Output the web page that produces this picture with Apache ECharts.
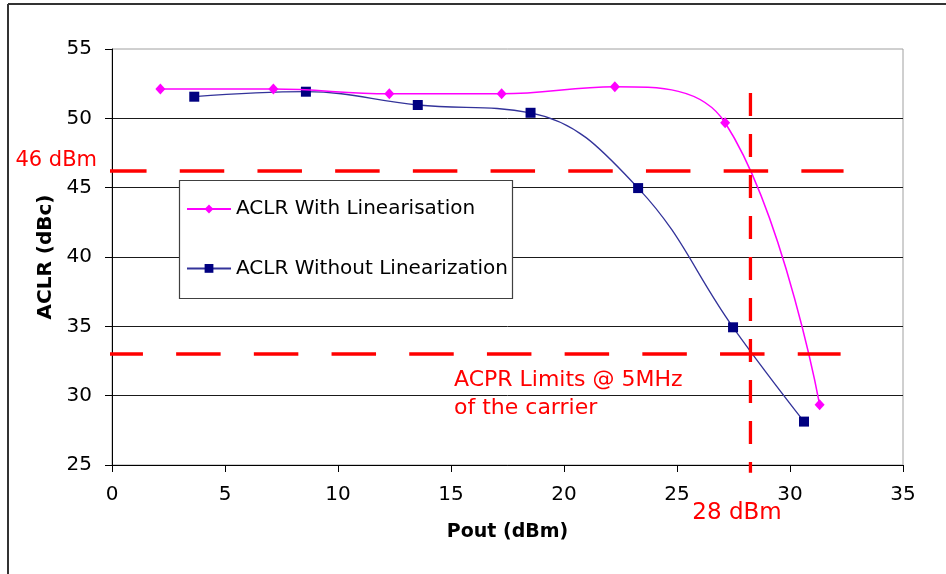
<!DOCTYPE html>
<html><head><meta charset="utf-8">
<script src="https://cdn.jsdelivr.net/npm/echarts@6/dist/echarts.min.js"></script>
<style>html,body{margin:0;padding:0;background:#fff}#c{width:946px;height:574px}</style>
</head><body><div id="c"></div>
<script>
// ---- data ----
const seriesNames = ['ACLR With Linearisation', 'ACLR Without Linearization'];
const withLinX = [2.14, 7.14, 12.27, 17.24, 22.25, 27.13, 31.31];
const withLinY = [52.11, 52.11, 51.77, 51.77, 52.28, 49.68, 29.35];
const withoutLinX = [3.64, 8.58, 13.53, 18.52, 23.28, 27.48, 30.62];
const withoutLinY = [51.56, 51.92, 50.96, 50.40, 44.97, 34.93, 28.13];
const limit46 = [[-0.44, 46.2], [32.37, 46.2]];
const limit33 = [[-0.6, 33.0], [32.24, 33.0]];
const limit28 = [[28.25, 51.82], [28.25, 24.45]];
const xRange = [0, 35, 5];
const yRange = [25, 55, 5];
const annotations = ['46 dBm', '28 dBm', 'ACPR Limits @ 5MHz\nof the carrier'];
const axisNames = ['Pout (dBm)', 'ACLR (dBc)'];

const FONT = 'DejaVu Sans';
const zip = (xs, ys) => xs.map((x, i) => [x, ys[i]]);

const chart = echarts.init(document.getElementById('c'), null, {renderer: 'canvas'});
chart.setOption({
  animation: false,
  backgroundColor: '#fff',
  grid: {left: 112, right: 43, top: 49, bottom: 109, show: true, borderColor: '#a0a0a0', borderWidth: 1, backgroundColor: 'transparent'},
  xAxis: {
    type: 'value', min: xRange[0], max: xRange[1], interval: xRange[2],
    name: axisNames[0], nameLocation: 'middle', nameGap: 58,
    nameTextStyle: {fontFamily: FONT, fontWeight: 'bold', fontSize: 19, color: '#000'},
    axisLine: {show: true, lineStyle: {color: '#000', width: 1}},
    axisTick: {show: true, length: 7, lineStyle: {color: '#000'}},
    axisLabel: {fontFamily: FONT, fontSize: 20, color: '#000', margin: 20},
    splitLine: {show: false}
  },
  yAxis: {
    type: 'value', min: yRange[0], max: yRange[1], interval: yRange[2],
    name: axisNames[1], nameLocation: 'middle', nameGap: 56, nameRotate: 90,
    nameTextStyle: {fontFamily: FONT, fontWeight: 'bold', fontSize: 20, color: '#000'},
    axisLine: {show: true, lineStyle: {color: '#000', width: 1}},
    axisTick: {show: true, length: 7, lineStyle: {color: '#000'}},
    axisLabel: {fontFamily: FONT, fontSize: 20, color: '#000', margin: 20},
    splitLine: {show: true, showMaxLine: false, lineStyle: {color: '#1a1a1a', width: 1}}
  },
  legend: {
    data: seriesNames, orient: 'vertical', left: 186, top: 199, padding: 0,
    itemWidth: 44, itemHeight: 11, itemGap: 39.4,
    textStyle: {fontFamily: FONT, fontSize: 20, color: '#000'}, z: 10
  },
  graphic: [
    {type: 'line', shape: {x1: 8, y1: 4, x2: 946, y2: 4}, style: {stroke: '#333', lineWidth: 2}, silent: true},
    {type: 'line', shape: {x1: 8, y1: 4, x2: 8, y2: 574}, style: {stroke: '#333', lineWidth: 2}, silent: true},
    {type: 'rect', shape: {x: 179.5, y: 180.5, width: 333, height: 118}, style: {fill: '#fff', stroke: '#404040', lineWidth: 1.2}, z: 5, silent: true},
    {type: 'text', x: 97, y: 161, style: {text: annotations[0], fill: '#ff0000', font: '21px "DejaVu Sans"', align: 'right', verticalAlign: 'middle'}, z: 20, silent: true},
    {type: 'text', x: 737, y: 513, style: {text: annotations[1], fill: '#ff0000', font: '23px "DejaVu Sans"', align: 'center', verticalAlign: 'middle'}, z: 20, silent: true},
    {type: 'text', x: 454, y: 366, style: {text: annotations[2], fill: '#ff0000', font: '22px "DejaVu Sans"', align: 'left', verticalAlign: 'top', lineHeight: 28}, z: 20, silent: true}
  ],
  series: [
    {name: seriesNames[0], type: 'line', data: zip(withLinX, withLinY), smooth: 0.4,
     symbol: 'diamond', symbolSize: [10, 11], z: 3,
     lineStyle: {color: '#ff00ff', width: 1.5}, itemStyle: {color: '#ff00ff'}},
    {name: seriesNames[1], type: 'line', data: zip(withoutLinX, withoutLinY), smooth: 0.4,
     symbol: 'rect', symbolSize: 10, z: 2,
     lineStyle: {color: '#33339a', width: 1.3}, itemStyle: {color: '#000080'}},
    {name: 'limit46', type: 'line', data: limit46, symbol: 'none', clip: false, silent: true, z: 6,
     lineStyle: {color: '#ff0000', width: 3.5, type: [44.5, 33.2], cap: 'butt'}},
    {name: 'limit33', type: 'line', data: limit33, symbol: 'none', clip: false, silent: true, z: 6,
     lineStyle: {color: '#ff0000', width: 3.5, type: [44.5, 33.2], cap: 'butt'}},
    {name: 'limit28', type: 'line', data: limit28, symbol: 'none', clip: false, silent: true, z: 6,
     lineStyle: {color: '#ff0000', width: 3.3, type: [23, 18], cap: 'butt'}}
  ]
});
</script></body></html>
